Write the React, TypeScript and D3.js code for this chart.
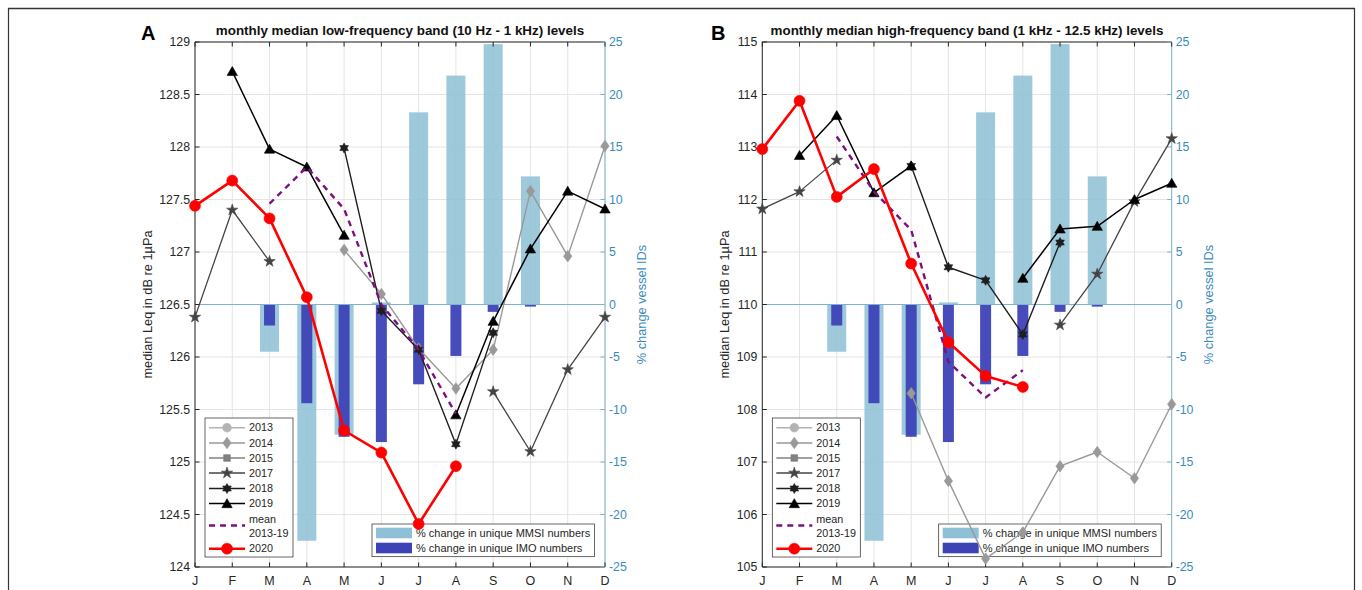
import React from "react";
import * as d3 from "d3";

const MONTHS = ["J", "F", "M", "A", "M", "J", "J", "A", "S", "O", "N", "D"];
const YEARS = ["2013", "2014", "2015", "2017", "2018", "2019", "mean 2013-19", "2020"];

// % change in vessel IDs (same in both panels)
const MMSI_CHANGE = [null, null, -4.5, -22.5, -12.4, 0.2, 18.3, 21.8, 24.8, 12.2, null, null];
const IMO_CHANGE = [null, null, -2.0, -9.4, -12.6, -13.1, -7.6, -4.9, -0.7, -0.2, null, null];

// Low-frequency band (10 Hz - 1 kHz)
const LF_2013: (number | null)[] = [null, null, null, null, null, null, null, null, null, null, null, null];
const LF_2014 = [null, null, null, null, 127.02, 126.6, 126.08, 125.7, 126.07, 127.58, 126.96, 128.01];
const LF_2015: (number | null)[] = [null, null, null, null, null, null, null, null, null, null, null, null];
const LF_2017 = [126.38, 127.4, 126.91, null, null, null, null, null, 125.67, 125.1, 125.88, 126.38];
const LF_2018 = [null, null, null, null, 127.99, 126.44, 126.07, 125.17, 126.23, null, null, null];
const LF_2019 = [null, 128.72, 127.98, 127.81, 127.16, null, null, 125.45, 126.34, 127.03, 127.58, 127.41];
const LF_MEAN = [null, null, 127.46, 127.81, 127.41, 126.5, 126.07, 125.46, null, null, null, null];
const LF_2020 = [127.44, 127.68, 127.32, 126.57, 125.3, 125.09, 124.41, 124.96, null, null, null, null];
const LF_TICKS = [124, 124.5, 125, 125.5, 126, 126.5, 127, 127.5, 128, 128.5, 129];

// High-frequency band (1 kHz - 12.5 kHz)
const HF_2013: (number | null)[] = [null, null, null, null, null, null, null, null, null, null, null, null];
const HF_2014 = [null, null, null, null, 108.31, 106.64, 105.16, 105.66, 106.92, 107.19, 106.69, 108.1];
const HF_2015: (number | null)[] = [null, null, null, null, null, null, null, null, null, null, null, null];
const HF_2017 = [111.82, 112.15, 112.75, null, null, null, null, null, 109.61, 110.58, 111.96, 113.16];
const HF_2018 = [null, null, null, null, 112.64, 110.71, 110.46, 109.43, 111.18, null, null, null];
const HF_2019 = [null, 112.84, 113.6, 112.13, 112.64, null, null, 110.5, 111.44, 111.49, 112.0, 112.31];
const HF_MEAN = [null, null, 113.2, 112.15, 111.42, 108.91, 108.23, 108.75, null, null, null, null];
const HF_2020 = [112.96, 113.88, 112.05, 112.58, 110.78, 109.28, 108.64, 108.43, null, null, null, null];
const HF_TICKS = [105, 106, 107, 108, 109, 110, 111, 112, 113, 114, 115];

const PCT_TICKS = [-25, -20, -15, -10, -5, 0, 5, 10, 15, 20, 25];

const FONT = "'Liberation Sans', Arial, Helvetica, sans-serif";
const AX = "#262626";
const BLUE_TXT = "#3a8bbd";
const BLUE_AX = "#7fb2d2";
const GRID = "#e4e4e4";
const MMSI_COL = "#8fc1d6";
const IMO_COL = "#3d42b6";

type MarkerKind = "circle" | "diamond" | "square" | "star5" | "star6" | "triangle" | "none";

interface StyleDef {
  color: string;
  width: number;
  marker: MarkerKind;
  size: number;
  dash?: string;
}

const STYLES: StyleDef[] = [
  { color: "#b3b3b3", width: 1.4, marker: "circle", size: 60 },
  { color: "#999999", width: 1.4, marker: "diamond", size: 55 },
  { color: "#808080", width: 1.4, marker: "square", size: 45 },
  { color: "#444444", width: 1.3, marker: "star5", size: 40 },
  { color: "#1e1e1e", width: 1.4, marker: "star6", size: 5 },
  { color: "#000000", width: 1.5, marker: "triangle", size: 55 },
  { color: "#7d0f80", width: 2.4, marker: "none", size: 0, dash: "6,5" },
  { color: "#ff0000", width: 2.6, marker: "circle", size: 95 },
];

function hexagram(r: number): string {
  const pts: string[] = [];
  const inner = r / Math.sqrt(3);
  for (let i = 0; i < 12; i++) {
    const a = (Math.PI / 6) * i - Math.PI / 2;
    const rr = i % 2 === 0 ? r : inner;
    pts.push(`${(rr * Math.cos(a)).toFixed(2)},${(rr * Math.sin(a)).toFixed(2)}`);
  }
  return "M" + pts.join("L") + "Z";
}

function markerPath(kind: MarkerKind, size: number): string {
  switch (kind) {
    case "circle":
      return d3.symbol(d3.symbolCircle, size)() || "";
    case "diamond": {
      const h = Math.sqrt(size) * 0.78;
      const w = h * 0.72;
      return `M0,${-h}L${w},0L0,${h}L${-w},0Z`;
    }
    case "square":
      return d3.symbol(d3.symbolSquare, size)() || "";
    case "star5":
      return d3.symbol(d3.symbolStar, size)() || "";
    case "star6":
      return hexagram(size);
    case "triangle": {
      const s = Math.sqrt(size) * 1.4;
      const h = s * 0.87;
      return `M0,${-h * 0.55}L${s / 2},${h * 0.45}L${-s / 2},${h * 0.45}Z`;
    }
    default:
      return "";
  }
}

interface PanelProps {
  left: number;
  right: number;
  top: number;
  bottom: number;
  domain: [number, number];
  ticks: number[];
  series: (number | null)[][];
  title: string;
  letter: string;
  letterX: number;
  yLabelX: number;
}

function Panel(p: PanelProps) {
  const x = d3.scaleLinear().domain([0, 11]).range([p.left, p.right]);
  const y = d3.scaleLinear().domain(p.domain).range([p.bottom, p.top]);
  const yr = d3.scaleLinear().domain([-25, 25]).range([p.bottom, p.top]);
  const cx = (p.left + p.right) / 2;
  const cy = (p.top + p.bottom) / 2;
  const tl = 4.5;

  const lineGen = d3
    .line<number | null>()
    .defined((d) => d != null)
    .x((_, i) => x(i))
    .y((d) => y(d as number));

  const lg = { x: p.left + 10, y: 418, w: 88, h: 139 };
  const legRows = [427.7, 443, 458, 473, 488.5, 503.6, 525.5, 548.7];
  const bl = { x: p.right - 233, y: 524, w: 222.5, h: 32.7 };

  return (
    <g>
      {/* grid */}
      {MONTHS.map((_, i) => (
        <line key={"gx" + i} x1={x(i)} x2={x(i)} y1={p.top} y2={p.bottom} stroke={GRID} strokeWidth={1} />
      ))}
      {p.ticks.map((t) => (
        <line key={"gy" + t} x1={p.left} x2={p.right} y1={y(t)} y2={y(t)} stroke={GRID} strokeWidth={1} />
      ))}

      {/* bars */}
      {MMSI_CHANGE.map((v, i) =>
        v == null ? null : (
          <rect
            key={"mm" + i}
            x={x(i) - 9.5}
            width={19}
            y={Math.min(yr(0), yr(v))}
            height={Math.abs(yr(v) - yr(0))}
            fill={MMSI_COL}
            fillOpacity={0.88}
          />
        )
      )}
      {IMO_CHANGE.map((v, i) =>
        v == null ? null : (
          <rect
            key={"im" + i}
            x={x(i) - 5.5}
            width={11}
            y={Math.min(yr(0), yr(v))}
            height={Math.abs(yr(v) - yr(0))}
            fill={IMO_COL}
            fillOpacity={0.95}
          />
        )
      )}
      <line x1={p.left} x2={p.right} y1={yr(0)} y2={yr(0)} stroke={BLUE_AX} strokeWidth={1} />

      {/* bar legend */}
      <rect x={bl.x} y={bl.y} width={bl.w} height={bl.h} fill="#ffffff" stroke={AX} strokeWidth={0.7} />
      <rect x={bl.x + 4} y={bl.y + 3.7} width={36} height={10.6} fill={MMSI_COL} />
      <rect x={bl.x + 4} y={bl.y + 18.7} width={36} height={10.6} fill={IMO_COL} />
      <text x={bl.x + 44} y={bl.y + 9} dy="0.35em" fontSize={11} fill={AX} fontFamily={FONT}>
        % change in unique MMSI numbers
      </text>
      <text x={bl.x + 44} y={bl.y + 24} dy="0.35em" fontSize={11} fill={AX} fontFamily={FONT}>
        % change in unique IMO numbers
      </text>

      {/* axes */}
      <line x1={p.left} x2={p.left} y1={p.top} y2={p.bottom} stroke={AX} strokeWidth={1} />
      <line x1={p.left} x2={p.right} y1={p.top} y2={p.top} stroke={AX} strokeWidth={1} />
      <line x1={p.left} x2={p.right} y1={p.bottom} y2={p.bottom} stroke={AX} strokeWidth={1} />
      <line x1={p.right} x2={p.right} y1={p.top} y2={p.bottom} stroke={BLUE_AX} strokeWidth={1} />
      {MONTHS.map((m, i) => (
        <g key={"xt" + i}>
          <line x1={x(i)} x2={x(i)} y1={p.bottom} y2={p.bottom - tl} stroke={AX} />
          <line x1={x(i)} x2={x(i)} y1={p.top} y2={p.top + tl} stroke={AX} />
          <text x={x(i)} y={585} textAnchor="middle" fontSize={12.5} fill={AX} fontFamily={FONT}>
            {m}
          </text>
        </g>
      ))}
      {p.ticks.map((t) => (
        <g key={"yt" + t}>
          <line x1={p.left} x2={p.left + tl} y1={y(t)} y2={y(t)} stroke={AX} />
          <text x={p.left - 5} y={y(t)} dy="0.35em" textAnchor="end" fontSize={12.3} fill={AX} fontFamily={FONT}>
            {String(t)}
          </text>
        </g>
      ))}
      {PCT_TICKS.map((t) => (
        <g key={"rt" + t}>
          <line x1={p.right} x2={p.right - tl} y1={yr(t)} y2={yr(t)} stroke={BLUE_AX} />
          <text x={p.right + 4} y={yr(t)} dy="0.35em" textAnchor="start" fontSize={12.3} fill={BLUE_TXT} fontFamily={FONT}>
            {String(t)}
          </text>
        </g>
      ))}
      <text
        transform={`translate(${p.yLabelX},${cy}) rotate(-90)`}
        textAnchor="middle"
        dy="0.35em"
        fontSize={12.8}
        fill={AX}
        fontFamily={FONT}
      >
        median Leq in dB re 1µPa
      </text>
      <text
        transform={`translate(${p.right + 37},${cy}) rotate(-90)`}
        textAnchor="middle"
        dy="0.35em"
        fontSize={12.8}
        fill={BLUE_TXT}
        fontFamily={FONT}
      >
        % change vessel IDs
      </text>
      <text x={cx} y={35} textAnchor="middle" fontSize={13.4} fontWeight="bold" fill="#111" fontFamily={FONT}>
        {p.title}
      </text>
      <text x={p.letterX} y={40} fontSize={20} fontWeight="bold" fill="#000" fontFamily={FONT}>
        {p.letter}
      </text>

      {/* series */}
      {p.series.map((vals, si) => {
        const st = STYLES[si];
        return (
          <g key={"s" + si}>
            <path
              d={lineGen(vals) || ""}
              fill="none"
              stroke={st.color}
              strokeWidth={st.width}
              strokeDasharray={st.dash}
              strokeLinejoin="round"
            />
            {st.marker !== "none" &&
              vals.map((v, i) =>
                v == null ? null : (
                  <path
                    key={i}
                    d={markerPath(st.marker, st.size)}
                    transform={`translate(${x(i)},${y(v)})`}
                    fill={st.color}
                    stroke={st.color}
                    strokeWidth={0.6}
                  />
                )
              )}
          </g>
        );
      })}

      {/* line legend */}
      <rect x={lg.x} y={lg.y} width={lg.w} height={lg.h} fill="#ffffff" stroke={AX} strokeWidth={0.7} />
      {YEARS.map((name, i) => {
        const st = STYLES[i];
        const ry = legRows[i];
        const lx0 = lg.x + 4;
        const lx1 = lg.x + 40;
        return (
          <g key={"lg" + i}>
            <line x1={lx0} x2={lx1} y1={ry} y2={ry} stroke={st.color} strokeWidth={st.width} strokeDasharray={st.dash} />
            {st.marker !== "none" && (
              <path
                d={markerPath(st.marker, st.size)}
                transform={`translate(${(lx0 + lx1) / 2},${ry})`}
                fill={st.color}
                stroke={st.color}
                strokeWidth={0.6}
              />
            )}
            {name.startsWith("mean") ? (
              <>
                <text x={lg.x + 44} y={ry - 6.5} dy="0.35em" fontSize={10.8} fill={AX} fontFamily={FONT}>
                  mean
                </text>
                <text x={lg.x + 44} y={ry + 8.2} dy="0.35em" fontSize={10.8} fill={AX} fontFamily={FONT}>
                  2013-19
                </text>
              </>
            ) : (
              <text x={lg.x + 44} y={ry} dy="0.35em" fontSize={10.8} fill={AX} fontFamily={FONT}>
                {name}
              </text>
            )}
          </g>
        );
      })}
    </g>
  );
}

export default function App() {
  return (
    <svg
      width={1362}
      height={590}
      style={{ position: "absolute", left: 0, top: 0, display: "block", background: "#fff" }}
    >
      <rect x={0} y={0} width={1362} height={590} fill="#ffffff" />
      <line x1={8} x2={1355} y1={8.5} y2={8.5} stroke="#333" strokeWidth={1.5} />
      <line x1={8.5} x2={8.5} y1={8} y2={590} stroke="#333" strokeWidth={1.2} />
      <line x1={1354.5} x2={1354.5} y1={8} y2={590} stroke="#333" strokeWidth={1.2} />
      <Panel
        left={195}
        right={605}
        top={42}
        bottom={567}
        domain={[124, 129]}
        ticks={LF_TICKS}
        series={[LF_2013, LF_2014, LF_2015, LF_2017, LF_2018, LF_2019, LF_MEAN, LF_2020]}
        title="monthly median low-frequency band (10 Hz - 1 kHz) levels"
        letter="A"
        letterX={141}
        yLabelX={148}
      />
      <Panel
        left={762.3}
        right={1171.7}
        top={42}
        bottom={567}
        domain={[105, 115]}
        ticks={HF_TICKS}
        series={[HF_2013, HF_2014, HF_2015, HF_2017, HF_2018, HF_2019, HF_MEAN, HF_2020]}
        title="monthly median high-frequency band (1 kHz - 12.5 kHz) levels"
        letter="B"
        letterX={711}
        yLabelX={725}
      />
    </svg>
  );
}
